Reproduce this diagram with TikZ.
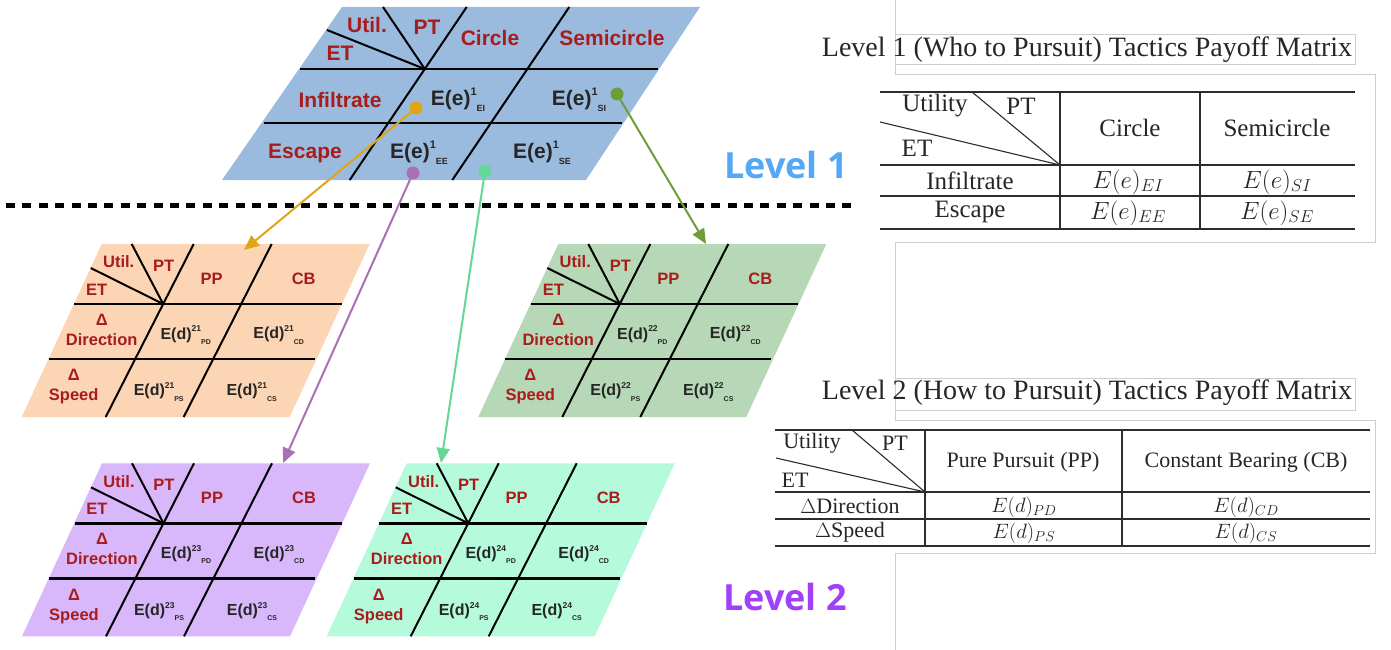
\documentclass[tikz,border=0pt]{standalone}
\usepackage{fontspec}
\setmainfont{Liberation Serif}
\newfontfamily\arialf{Liberation Sans}
\newfontfamily\lvlf{Open Sans}
\usetikzlibrary{arrows.meta}
\definecolor{sheetblue}{RGB}{155,187,222}
\definecolor{sheetorange}{RGB}{252,213,180}
\definecolor{sheetgreen}{RGB}{182,216,182}
\definecolor{sheetpurple}{RGB}{216,184,250}
\definecolor{sheetteal}{RGB}{182,250,220}
\definecolor{lblred}{RGB}{168,28,28}
\definecolor{lvlblue}{RGB}{85,168,245}
\definecolor{lvlpurple}{RGB}{160,64,250}
\definecolor{arrorange}{RGB}{225,165,20}
\definecolor{arrgreen}{RGB}{110,158,55}
\definecolor{arrpurple}{RGB}{170,112,180}
\definecolor{arrteal}{RGB}{100,215,150}
\definecolor{boxgray}{RGB}{205,205,205}
\definecolor{rulegray}{RGB}{45,45,45}
\newcommand\Eval[5]{#1\raisebox{.45em}{\fontsize{#4}{#4}\selectfont #2}\raisebox{-.32em}{\fontsize{#5}{#5}\selectfont #3}}
\newcommand\lvsheet[4]{%
\begin{scope}[shift={(#1,#2)}]
\fill[#3] (0,0) -- (268,0) -- (188,173) -- (-80,173) -- cycle;
\draw[hrule] (-27.5,60) -- (240,60);
\draw[hrule] (-53,115) -- (213,115);
\draw[srule] (92,0) -- (4,173);
\draw[srule] (170,0) -- (82,173);
\draw[srule] (61.5,60) -- (30,0);
\draw[srule] (61.5,60) -- (-11,24);
\node[lbltwo] (util#4) at (17,18) {Util.};
\node[lbltwo] (pt#4) at (62,22) {PT};
\node[lbltwo] (et#4) at (-5,46) {ET};
\node[lbltwo] (pp#4) at (110,35) {PP};
\node[lbltwo] (cb#4) at (202,35) {CB};
\node[lbltwo] (dir#4) at (0,86) {Δ\\Direction};
\node[lbltwo] (spd#4) at (-28,143) {Δ\\Speed};
\node[celltwo] (pd#4) at (84,91) {\Eval{E(d)}{#4}{PD}{8.5}{7}};
\node[celltwo] (cd#4) at (177,91) {\Eval{E(d)}{#4}{CD}{8.5}{7}};
\node[celltwo] (ps#4) at (57,148) {\Eval{E(d)}{#4}{PS}{8.5}{7}};
\node[celltwo] (cs#4) at (150,148) {\Eval{E(d)}{#4}{CS}{8.5}{7}};
\end{scope}}
\begin{document}
\begin{tikzpicture}[x=1pt,y=-1pt,
  hrule/.style={line width=2.6pt,black},
  srule/.style={line width=2pt,black},
  lblone/.style={text=lblred,font=\arialf\bfseries\fontsize{21}{24}\selectfont,inner sep=0pt,align=center},
  cellone/.style={text=black!85,font=\arialf\bfseries\fontsize{21}{24}\selectfont,inner sep=0pt},
  lbltwo/.style={text=lblred,font=\arialf\bfseries\fontsize{16.5}{20}\selectfont,inner sep=0pt,align=center},
  celltwo/.style={text=black!85,font=\arialf\bfseries\fontsize{16}{18}\selectfont,inner sep=0pt},
  dotn/.style={circle,inner sep=0pt,minimum size=13pt},
  conn/.style={line width=2pt,-{Triangle[length=15pt,width=13pt]}},
  greybox/.style={draw=boxgray,line width=1pt},
  tabrule/.style={draw=rulegray,line width=1.4pt},
  tabvrule/.style={draw=rulegray,line width=1.1pt},
  tabtxtA/.style={text=black!85,font=\fontsize{25}{28}\selectfont,inner sep=0pt},
  tabtxtB/.style={text=black!85,font=\fontsize{22}{25}\selectfont,inner sep=0pt},
  titletxt/.style={text=black!85,font=\fontsize{28}{30}\selectfont,inner sep=0pt},
  lvltxt/.style={font=\lvlf\bfseries\fontsize{36}{40}\selectfont,inner sep=0pt}
]
\useasboundingbox (0,0) rectangle (1391,650);
\fill[white] (0,0) rectangle (1391,650);

% ---------- grey screenshot frames ----------
\draw[greybox] (895,0) -- (895,35);
\draw[greybox] (895,35) rectangle (1355,65);
\draw[greybox] (895,65) -- (895,75);
\draw[greybox] (895,75) -- (1375,75) -- (1375,242) -- (895,242) -- (895,378);
\draw[greybox] (895,378) rectangle (1355,410);
\draw[greybox] (895,410) -- (895,420);
\draw[greybox] (895,420) -- (1375,420) -- (1375,553) -- (895,553) -- (895,650);

% ---------- top (level 1) sheet ----------
\fill[sheetblue] (342,7) -- (700,7) -- (586,180) -- (222,180) -- cycle;
\draw[hrule] (300,69) -- (658,69);
\draw[hrule] (263.6,123) -- (621.6,123);
\draw[srule] (466.7,7) -- (349.7,180);
\draw[srule] (569.3,7) -- (452.3,180);
\draw[srule] (424.8,69) -- (383,7);
\draw[srule] (424.8,69) -- (327,30);
\node[lblone] (utilA) at (367,25) {Util.};
\node[lblone] (ptA) at (427,27) {PT};
\node[lblone] (etA) at (340,53) {ET};
\node[lblone] (circA) at (490,38) {Circle};
\node[lblone] (semiA) at (612,38) {Semicircle};
\node[lblone] (infA) at (340,100) {Infiltrate};
\node[lblone] (escA) at (305,153) {Escape};
\node[cellone] (eEI) at (458,100) {\Eval{E(e)}{1}{EI}{11}{9}};
\node[cellone] (eSI) at (579,100) {\Eval{E(e)}{1}{SI}{11}{9}};
\node[cellone] (eEE) at (419,153) {\Eval{E(e)}{1}{EE}{11}{9}};
\node[cellone] (eSE) at (542,153) {\Eval{E(e)}{1}{SE}{11}{9}};

% ---------- dashed separator ----------
\coordinate (sepL) at (6,205);
\coordinate (sepR) at (858,205);
\draw[line width=5pt,dash pattern=on 9pt off 7.4pt] (sepL) -- (sepR);

% ---------- level 2 sheets ----------
\lvsheet{101.7}{244}{sheetorange}{21}
\lvsheet{558.3}{244}{sheetgreen}{22}
\lvsheet{102}{463.3}{sheetpurple}{23}
\lvsheet{406.7}{463.3}{sheetteal}{24}

% ---------- connectors ----------
\node[dotn,fill=arrorange] (dotEI) at (416,108) {};
\node[dotn,fill=arrgreen] (dotSI) at (617,94) {};
\node[dotn,fill=arrpurple] (dotEE) at (413,173) {};
\node[dotn,fill=arrteal] (dotSE) at (485,171) {};
\coordinate (tgt21) at (244,250);
\coordinate (tgt22) at (706,244);
\coordinate (tgt23) at (283,463);
\coordinate (tgt24) at (441,463);
\draw[conn,arrorange] (dotEI) -- (tgt21);
\draw[conn,arrgreen] (dotSI) -- (tgt22);
\draw[conn,arrpurple] (dotEE) -- (tgt23);
\draw[conn,arrteal] (dotSE) -- (tgt24);

% ---------- level labels ----------
\node[lvltxt,text=lvlblue] (lvl1) at (786,165) {Level 1};
\node[lvltxt,text=lvlpurple] (lvl2) at (785,597) {Level 2};

% ---------- table 1 ----------
\node[titletxt] (title1) at (1087,50) {Level 1 (Who to Pursuit) Tactics Payoff Matrix};
\draw[tabrule] (880,92) -- (1355,92);
\draw[tabrule] (880,165) -- (1355,165);
\draw[tabrule] (880,196) -- (1355,196);
\draw[tabrule] (880,229) -- (1355,229);
\draw[tabvrule] (1060,92) -- (1060,229);
\draw[tabvrule] (1200,92) -- (1200,229);
\draw[tabvrule] (1060,165) -- (972,92);
\draw[tabvrule] (1060,165) -- (880,122);
\node[tabtxtA] (tAutil) at (935,106) {Utility};
\node[tabtxtA] (tApt) at (1021,106) {PT};
\node[tabtxtA] (tAet) at (917,148) {ET};
\node[tabtxtA] (tAcirc) at (1130,128) {Circle};
\node[tabtxtA] (tAsemi) at (1277,128) {Semicircle};
\node[tabtxtA] (tAinf) at (970,181) {Infiltrate};
\node[tabtxtA] (tAesc) at (970,212) {Escape};
\node[tabtxtA] (tAei) at (1128,182) {$E(e)_{EI}$};
\node[tabtxtA] (tAsi) at (1277,182) {$E(e)_{SI}$};
\node[tabtxtA] (tAee) at (1128,213) {$E(e)_{EE}$};
\node[tabtxtA] (tAse) at (1277,213) {$E(e)_{SE}$};

% ---------- table 2 ----------
\node[titletxt] (title2) at (1087,393) {Level 2 (How to Pursuit) Tactics Payoff Matrix};
\draw[tabrule] (775,430) -- (1370,430);
\draw[tabrule] (775,492) -- (1370,492);
\draw[tabrule] (775,519) -- (1370,519);
\draw[tabrule] (775,546) -- (1370,546);
\draw[tabvrule] (925,430) -- (925,546);
\draw[tabvrule] (1122,430) -- (1122,546);
\draw[tabvrule] (925,492) -- (852,430);
\draw[tabvrule] (925,492) -- (776,458);
\node[tabtxtB] (tButil) at (812,443) {Utility};
\node[tabtxtB] (tBpt) at (895,443) {PT};
\node[tabtxtB] (tBet) at (795,480) {ET};
\node[tabtxtB] (tBpp) at (1023,462) {Pure Pursuit (PP)};
\node[tabtxtB] (tBcb) at (1246,462) {Constant Bearing (CB)};
\node[tabtxtB] (tBdir) at (850,506) {$\Delta$Direction};
\node[tabtxtB] (tBspd) at (850,532) {$\Delta$Speed};
\node[tabtxtB] (tBpd) at (1024,507) {$E(d)_{PD}$};
\node[tabtxtB] (tBcd) at (1246,507) {$E(d)_{CD}$};
\node[tabtxtB] (tBps) at (1024,533) {$E(d)_{PS}$};
\node[tabtxtB] (tBcs) at (1246,533) {$E(d)_{CS}$};
\end{tikzpicture}
\end{document}
